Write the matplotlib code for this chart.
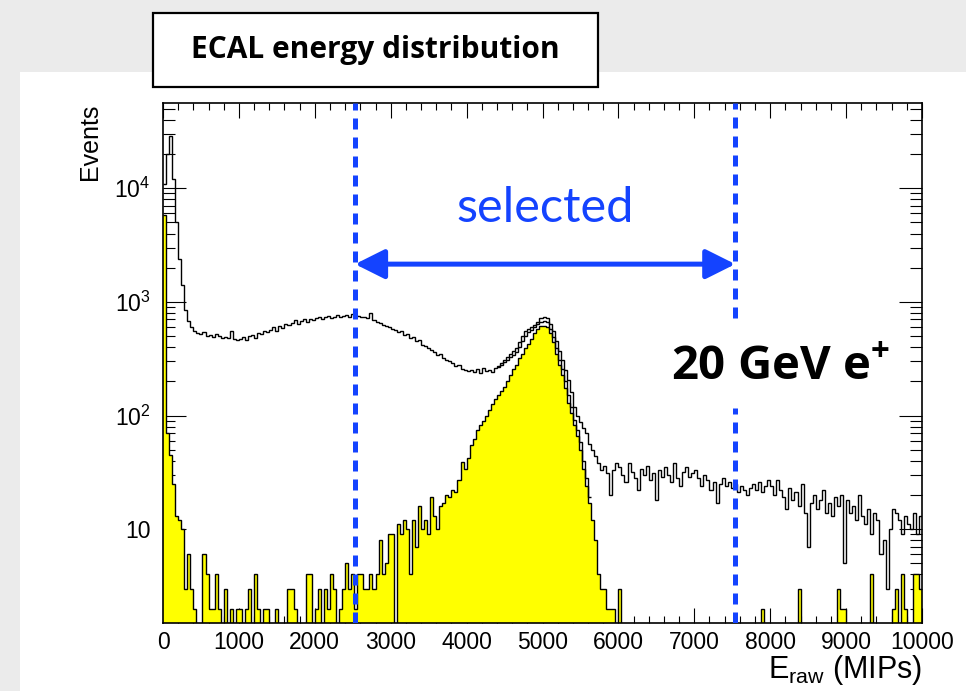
import numpy as np
import matplotlib
matplotlib.use('Agg')
import matplotlib.pyplot as plt
from matplotlib.patches import Rectangle
from matplotlib.ticker import FixedLocator, FixedFormatter, LogLocator, MultipleLocator, NullFormatter

plt.rcParams['font.family'] = ['Liberation Sans', 'DejaVu Sans']
plt.rcParams['mathtext.default'] = 'regular'

# binning of the raw ECAL energy sum (MIPs)
e_min, e_max, n_bins = 0, 10000, 250
cut_lo, cut_hi = 2530, 7540          # selection window
arrow_level = 2150                   # height of the selection arrow (events)
label_level = 6700

# all events, 40 MIP bins
all_counts = [
    11000, 20000, 29000, 12000, 5000, 2400, 1400, 850, 680, 600, 560, 530, 520, 540, 500, 510, 490, 520, 500, 480, 495, 480, 560, 470, 460,
    470, 490, 460, 500, 510, 480, 530, 520, 560, 540, 570, 600, 560, 610, 590, 640, 620, 650, 690, 640, 680, 700, 670, 710, 690,
    720, 740, 710, 730, 750, 720, 740, 760, 730, 750, 770, 740, 780, 760, 750, 730, 740, 720, 800, 690, 670, 650, 630, 610, 600,
    580, 570, 540, 550, 510, 520, 480, 490, 450, 460, 420, 410, 390, 380, 360, 340, 350, 320, 310, 300, 290, 270, 280, 255, 250,
    245, 250, 240, 255, 235, 260, 245, 250, 240, 260, 270, 290, 310, 330, 350, 370, 390, 440, 500, 550, 580, 600, 620, 660, 720,
    740, 720, 640, 560, 450, 370, 310, 250, 205, 160, 120, 100, 88, 78, 70, 56, 50, 44, 38, 33, 36, 31, 20, 33, 38,
    35, 30, 26, 38, 32, 28, 22, 34, 30, 36, 27, 31, 18, 33, 29, 35, 30, 26, 38, 28, 24, 32, 35, 29, 31,
    33, 28, 24, 30, 27, 22, 26, 17, 25, 28, 24, 26, 23, 25, 21, 24, 22, 20, 23, 25, 22, 26, 21, 24, 27,
    24, 20, 27, 22, 19, 15, 23, 18, 21, 16, 25, 14, 7, 17, 20, 15, 18, 22, 14, 17, 13, 19, 16, 20, 5,
    18, 14, 16, 12, 20, 13, 11, 15, 9, 14, 12, 6, 8, 3, 10, 15, 14, 12, 9, 13, 11, 10, 14, 9, 13,
]

# events passing the shower cut, 4400-5640 MIPs only
mid_first_bin = 110
mid_counts = [
    265, 280, 295, 310, 325, 340, 360, 400, 450, 500, 540, 570, 600, 640, 670,
    680, 660, 580, 490, 390, 310, 255, 200, 150, 118, 92, 75, 58, 40, 28, 19,
]

# selected events
sel_counts = [
    5800, 70, 45, 25, 13, 12, 10, 3, 6, 3, 2, 1, 0, 6, 4, 2, 2, 4, 2, 1, 3, 1, 2, 1, 2,
    2, 1, 2, 3, 1, 4, 2, 1, 2, 2, 0, 1, 2, 1, 1, 0, 3, 3, 2, 1, 1, 0, 4, 4, 1,
    2, 3, 1, 3, 2, 4, 3, 1, 2, 3, 5, 3, 4, 2, 4, 4, 3, 3, 4, 3, 4, 8, 4, 5, 9,
    9, 1, 11, 9, 12, 10, 4, 12, 7, 16, 10, 12, 9, 19, 13, 10, 16, 17, 20, 19, 22, 21, 27, 39, 34,
    42, 55, 62, 75, 82, 90, 98, 112, 125, 140, 152, 165, 178, 200, 225, 255, 280, 320, 350, 390, 430, 475, 530, 580, 610,
    615, 600, 530, 440, 350, 280, 225, 175, 130, 105, 82, 66, 50, 34, 24, 17, 12, 8, 4, 3, 3, 2, 2, 2, 1,
    3, 0, 1, 0, 0, 0, 1, 0, 0, 0, 0, 0, 1, 0, 0, 0, 0, 0, 0, 1, 0, 0, 0, 0, 0,
    0, 0, 0, 1, 0, 0, 0, 0, 0, 0, 0, 0, 0, 0, 0, 0, 1, 0, 0, 0, 0, 0, 2, 0, 0,
    0, 0, 0, 0, 0, 0, 0, 0, 0, 3, 0, 0, 0, 0, 0, 0, 0, 0, 0, 0, 0, 0, 3, 2, 2,
    0, 0, 0, 0, 0, 0, 0, 0, 4, 0, 0, 0, 0, 0, 0, 2, 3, 0, 4, 2, 0, 0, 4, 4, 3,
]

y_ticks = [10, 100, 1000, 10000]
y_labels = ['10', '$10^{2}$', '$10^{3}$', '$10^{4}$']

edges = np.linspace(e_min, e_max, n_bins + 1)
all_counts = np.array(all_counts, dtype=float)
sel_counts = np.array(sel_counts, dtype=float)
mid_counts = np.array(mid_counts, dtype=float)
mid_edges = edges[mid_first_bin:mid_first_bin + len(mid_counts) + 1]

blue = '#1443ff'
W, H = 966, 691

fig = plt.figure(figsize=(W / 100, H / 100), dpi=100)
fig.patch.set_facecolor('#ebebeb')
fig.patches.append(Rectangle((20 / W, 0), 1, (H - 72) / H, transform=fig.transFigure,
                             facecolor='white', edgecolor='none', zorder=-5))

ax = fig.add_axes([163 / W, 68.3 / H, 759 / W, 519.4 / H])
ax.set_zorder(2)
ax.set_facecolor('white')

ax.stairs(sel_counts, edges, baseline=0.01, fill=True, color='#ffff00', zorder=2)
ax.stairs(sel_counts, edges, baseline=None, color='black', lw=1.0, zorder=3)
ax.stairs(mid_counts, mid_edges, baseline=None, color='black', lw=1.0, zorder=3)
ax.stairs(all_counts, edges, baseline=None, color='black', lw=1.0, zorder=3)

ax.set_yscale('log')
ax.set_xlim(e_min, e_max)
ax.set_ylim(1.5, 5.6e4)

# selection window
dash = (0, (2.2, 1.6))
ax.axvline(cut_lo, color=blue, lw=3.6, linestyle=dash, zorder=4)
ax.axvline(cut_hi, ymin=0, ymax=0.413, color=blue, lw=3.6, linestyle=dash, zorder=4)
ax.axvline(cut_hi, ymin=0.587, ymax=1, color=blue, lw=3.6, linestyle=dash, zorder=4)
ax.annotate('', xy=(cut_hi, arrow_level), xytext=(cut_lo, arrow_level),
            arrowprops=dict(arrowstyle='<|-|>,head_length=1.8,head_width=0.9',
                            lw=3.6, color=blue, shrinkA=0, shrinkB=0), zorder=5)
ax.text((cut_lo + cut_hi) / 2, label_level, 'selected', color=blue, fontsize=35,
        family=['Lato', 'DejaVu Sans'], ha='center', va='center')
ax.text(0.958, 0.492, '20 GeV e$^{+}$', transform=ax.transAxes, ha='right', va='center',
        fontsize=34, fontweight='bold', family=['Open Sans', 'DejaVu Sans'])

# ROOT-like frame and ticks
for s in ax.spines.values():
    s.set_linewidth(1.2)
ax.xaxis.set_major_locator(MultipleLocator(1000))
ax.xaxis.set_minor_locator(MultipleLocator(200))
ax.yaxis.set_major_locator(FixedLocator(y_ticks))
ax.yaxis.set_major_formatter(FixedFormatter(y_labels))
ax.yaxis.set_minor_locator(LogLocator(base=10, subs=np.arange(2, 10)))
ax.yaxis.set_minor_formatter(NullFormatter())
ax.tick_params(which='both', direction='in', top=True, right=True, width=0.8)
ax.tick_params(axis='x', which='major', length=10.8, labelsize=16.5, pad=6)
ax.tick_params(axis='x', which='minor', length=5)
ax.tick_params(axis='y', which='major', length=16.5, labelsize=16.5, pad=9)
ax.tick_params(axis='y', which='minor', length=8.6)

ax.set_xlabel('E$_{raw}$ (MIPs)', loc='right', fontsize=22, labelpad=-1)
ax.set_ylabel('Events', loc='top', fontsize=18, labelpad=9)

# title box
fig.patches.append(Rectangle((153 / W, (H - 87) / H), 445 / W, 74 / H, transform=fig.transFigure,
                             facecolor='white', edgecolor='black', lw=1.6, zorder=3))
fig.text(375.5 / W, 1 - 50 / H, 'ECAL energy distribution', ha='center', va='center',
         fontsize=21.5, fontweight='bold', family=['Open Sans', 'DejaVu Sans'], zorder=4)

fig.savefig('out.png', dpi=100, facecolor=fig.get_facecolor())
